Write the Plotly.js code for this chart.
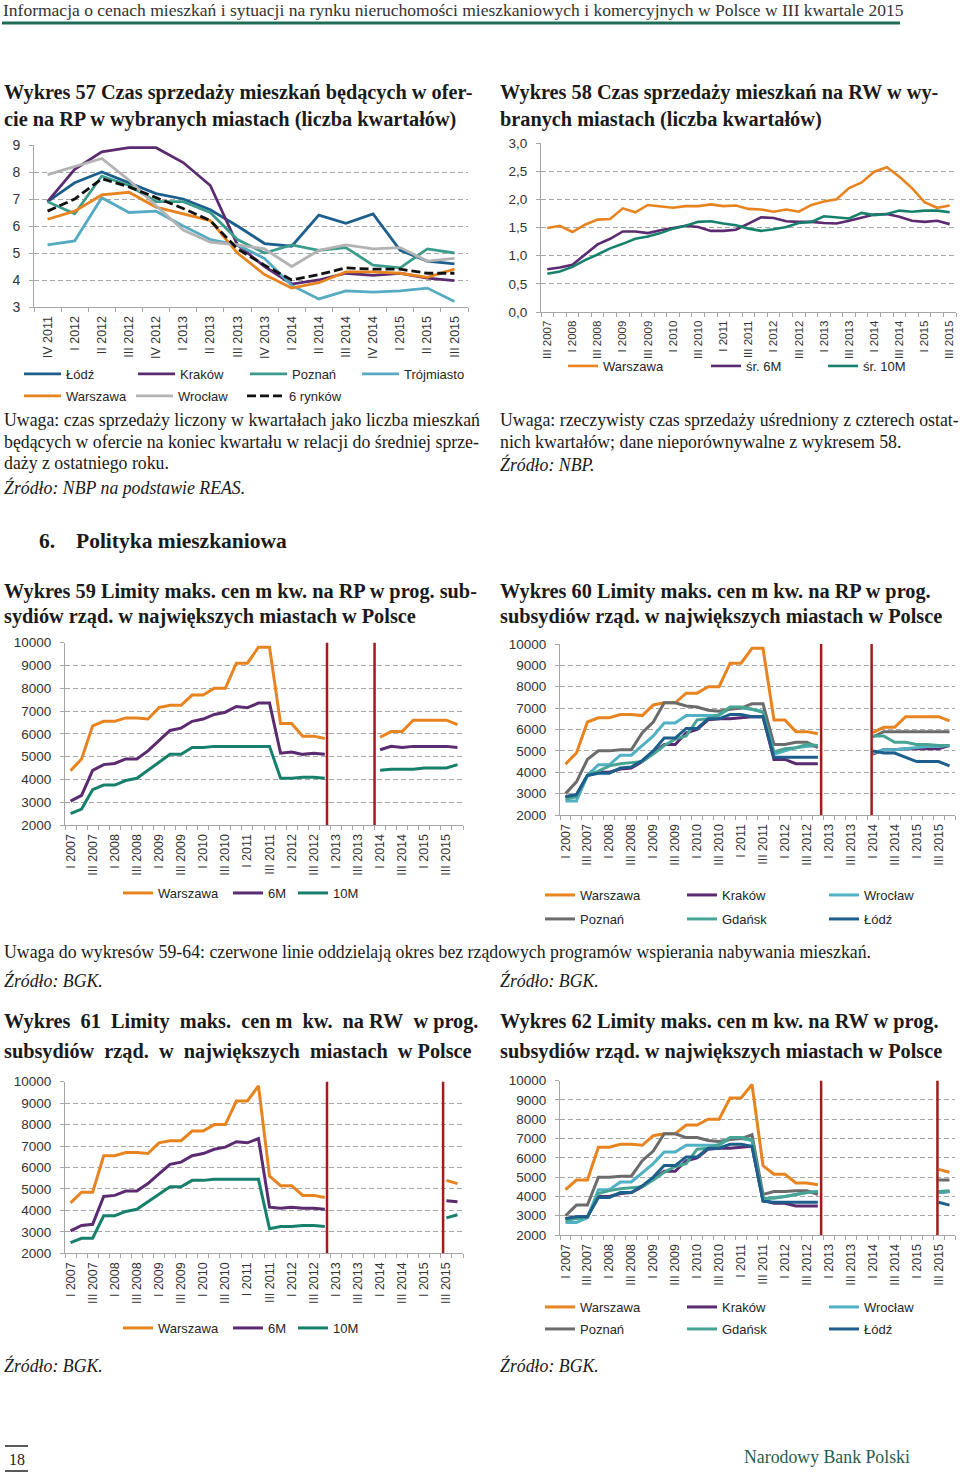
<!DOCTYPE html>
<html><head><meta charset="utf-8">
<script src="https://cdn.plot.ly/plotly-3.0.1.min.js"></script>
<style>body{margin:0;background:#fff}#chart{width:960px;height:1474px}</style>
</head><body><div id="chart"></div>
<script>
// ---------- DATA ----------
const cats57 = ['IV 2011','I 2012','II 2012','III 2012','IV 2012','I 2013','II 2013','III 2013','IV 2013','I 2014','II 2014','III 2014','IV 2014','I 2015','II 2015','III 2015'];
const lodz57 = [6.9,7.6,8.0,7.6,7.2,7.0,6.6,6.0,5.35,5.25,6.4,6.1,6.45,5.1,4.7,4.6];
const krakow57 = [6.9,8.1,8.75,8.9,8.9,8.35,7.5,5.3,4.5,3.85,4.0,4.25,4.17,4.25,4.07,3.98];
const poznan57 = [6.9,6.45,7.85,7.5,6.9,6.9,6.5,5.5,5.0,5.3,5.1,5.2,4.55,4.45,5.15,5.0];
const trojmiasto57 = [5.3,5.45,7.05,6.5,6.55,6.0,5.5,5.3,4.8,3.8,3.3,3.6,3.55,3.6,3.7,3.2];
const warszawa57 = [6.25,6.55,7.15,7.25,6.7,6.45,6.2,5.0,4.2,3.7,3.9,4.3,4.3,4.25,4.1,4.4];
const wroclaw57 = [7.9,8.2,8.5,7.7,6.75,5.85,5.4,5.3,5.15,4.5,5.1,5.3,5.15,5.2,4.7,4.8];
const rynki57 = [6.55,7.0,7.75,7.45,7.05,6.65,6.2,5.15,4.55,4.0,4.2,4.45,4.4,4.4,4.25,4.25];
const yTicks57 = [3,4,5,6,7,8,9];
const yText57 = ['3','4','5','6','7','8','9'];

const cats58 = ['III 2007','IV 2007','I 2008','II 2008','III 2008','IV 2008','I 2009','II 2009','III 2009','IV 2009','I 2010','II 2010','III 2010','IV 2010','I 2011','II 2011','III 2011','IV 2011','I 2012','II 2012','III 2012','IV 2012','I 2013','II 2013','III 2013','IV 2013','I 2014','II 2014','III 2014','IV 2014','I 2015','II 2015','III 2015'];
const warszawa58 = [1.49,1.53,1.42,1.55,1.64,1.65,1.84,1.77,1.90,1.88,1.85,1.88,1.88,1.91,1.88,1.89,1.83,1.82,1.78,1.82,1.78,1.90,1.96,2.00,2.20,2.30,2.49,2.57,2.40,2.20,1.95,1.85,1.89];
const sr6M58 = [0.76,0.79,0.84,1.02,1.20,1.30,1.43,1.43,1.40,1.45,1.49,1.53,1.51,1.44,1.44,1.46,1.57,1.68,1.67,1.61,1.60,1.60,1.58,1.57,1.62,1.67,1.73,1.74,1.69,1.62,1.60,1.62,1.56];
const sr10M58 = [0.68,0.72,0.80,0.92,1.02,1.13,1.21,1.30,1.34,1.40,1.48,1.53,1.60,1.61,1.57,1.54,1.48,1.44,1.47,1.51,1.58,1.60,1.70,1.68,1.66,1.76,1.72,1.74,1.80,1.78,1.80,1.80,1.77];
const yTicks58 = [0,0.5,1,1.5,2,2.5,3];
const yText58 = ['0,0','0,5','1,0','1,5','2,0','2,5','3,0'];

const catsQ = ['I 2007','II 2007','III 2007','IV 2007','I 2008','II 2008','III 2008','IV 2008','I 2009','II 2009','III 2009','IV 2009','I 2010','II 2010','III 2010','IV 2010','I 2011','II 2011','III 2011','IV 2011','I 2012','II 2012','III 2012','IV 2012','I 2013','II 2013','III 2013','IV 2013','I 2014','II 2014','III 2014','IV 2014','I 2015','II 2015','III 2015','IV 2015'];
const yTicksK = [2000,3000,4000,5000,6000,7000,8000,9000,10000];
const yTextK = ['2000','3000','4000','5000','6000','7000','8000','9000','10000'];
const _ = null;

// Wykres 59 (RP)
const warszawa59 = [4380,4900,6350,6550,6550,6700,6700,6650,7150,7250,7250,7700,7700,8000,8000,9100,9100,9800,9800,6450,6450,5900,5900,5800,_,_,_,_,5850,6100,6100,6600,6600,6600,6600,6400];
const m6_59 = [3050,3300,4400,4650,4700,4900,4900,5250,5700,6150,6250,6550,6650,6850,6950,7200,7150,7350,7350,5150,5200,5100,5150,5100,_,_,_,_,5300,5450,5400,5450,5450,5450,5450,5400];
const m10_59 = [2500,2700,3550,3750,3750,3950,4050,4400,4750,5100,5100,5400,5400,5450,5450,5450,5450,5450,5450,4050,4050,4100,4100,4050,_,_,_,_,4400,4450,4450,4450,4500,4500,4500,4650];
const red59 = [23.2,27.5];

// Wykres 60 (RP, miasta)
const warszawa60 = [4380,4900,6350,6550,6550,6700,6700,6650,7150,7250,7250,7700,7700,8000,8000,9100,9100,9800,9800,6450,6450,5900,5900,5800,_,_,_,_,5850,6100,6100,6600,6600,6600,6600,6400];
const krakow60 = [2850,2950,3850,4000,4000,4150,4200,4500,4900,5300,5300,5850,6000,6450,6500,6500,6550,6600,6600,4600,4600,4400,4400,4400,_,_,_,_,4850,5050,5050,5100,5100,5100,5100,5250];
const wroclaw60 = [2650,2650,3850,4350,4350,4800,4800,5250,5700,6300,6300,6650,6650,6650,6650,7000,7000,6950,6850,4850,5000,5150,5200,5250,_,_,_,_,4900,5050,5050,5100,5150,5200,5200,5250];
const poznan60 = [3000,3550,4600,5000,5000,5050,5050,5850,6350,7250,7250,7100,7050,6900,6850,6950,7000,7200,7200,5300,5300,5400,5400,5150,_,_,_,_,5650,5900,5900,5900,5900,5900,5900,5900];
const gdansk60 = [2750,2850,3850,4050,4300,4400,4450,4500,4850,5250,5550,5700,6450,6500,6700,7050,7050,6950,6800,4950,5100,5150,5300,5250,_,_,_,_,5700,5700,5400,5400,5300,5300,5250,5250];
const lodz60 = [2850,2950,3850,3950,3950,4200,4250,4550,5000,5600,5600,6050,6050,6500,6500,6700,6700,6600,6600,4700,4700,4700,4700,4700,_,_,_,_,5000,4900,4900,4700,4500,4500,4500,4300];
const red60 = [23.3,27.9];

// Wykres 61 (RW)
const warszawa61 = [4350,4850,4850,6550,6550,6700,6700,6650,7150,7250,7250,7700,7700,8000,8000,9100,9100,9800,5600,5150,5150,4700,4700,4600,_,_,_,_,_,_,_,_,_,_,5400,5250];
const m6_61 = [3050,3300,3350,4650,4700,4900,4900,5250,5700,6150,6250,6550,6650,6850,6950,7200,7150,7350,4150,4100,4150,4100,4100,4050,_,_,_,_,_,_,_,_,_,_,4450,4400];
const m10_61 = [2500,2700,2700,3750,3750,3950,4050,4400,4750,5100,5100,5400,5400,5450,5450,5450,5450,5450,3150,3250,3250,3300,3300,3250,_,_,_,_,_,_,_,_,_,_,3650,3800];
const red61 = [23.2,33.7];

// Wykres 62 (RW, miasta)
const warszawa62 = [4350,4850,4850,6550,6550,6700,6700,6650,7150,7250,7250,7700,7700,8000,8000,9100,9100,9800,5600,5150,5150,4700,4700,4600,_,_,_,_,_,_,_,_,_,_,5400,5250];
const krakow62 = [2850,2950,2950,4000,4000,4150,4200,4500,4900,5300,5300,5850,6000,6450,6500,6500,6550,6600,3800,3650,3650,3500,3500,3500,_,_,_,_,_,_,_,_,_,_,4200,4250];
const wroclaw62 = [2650,2650,2900,4350,4350,4750,4750,5250,5700,6300,6300,6650,6650,6650,6650,7000,7000,6900,3850,3950,4000,4100,4200,4250,_,_,_,_,_,_,_,_,_,_,4200,4250];
const poznan62 = [3000,3550,3550,5000,5000,5050,5050,5850,6350,7250,7250,7050,7050,6900,6850,6950,7000,7200,4100,4250,4250,4300,4300,4100,_,_,_,_,_,_,_,_,_,_,4850,4850];
const gdansk62 = [2750,2850,2900,4150,4300,4400,4450,4500,4850,5250,5550,5700,6450,6500,6700,7050,7050,6950,3900,3900,4000,4100,4200,4250,_,_,_,_,_,_,_,_,_,_,4250,4300];
const lodz62 = [2850,2950,2950,3950,3950,4200,4200,4550,5000,5600,5600,6050,6050,6500,6500,6700,6700,6600,3750,3700,3700,3700,3700,3700,_,_,_,_,_,_,_,_,_,_,3700,3550];
const red62 = [23.3,33.9];

// ---------- STYLE ----------
const W = 960, H = 1474;
const SANS = 'Liberation Sans, Arial, sans-serif';
const SERIF = 'Liberation Serif, Times New Roman, serif';
const C = {orange:'#e8841f', purple:'#5b2a70', teal10:'#17806d', lodz:'#1d5f8c', poz57:'#3b9c8d', troj:'#56abc2', wro57:'#b3b3b3', poz60:'#6b6b6b', gdansk:'#47a494', wro60:'#4fb1c3', red:'#a31b1b', axis:'#a6a6a6'};

const idx = c => c.map((v,i)=>i);
const evenIdx = c => idx(c).filter(i=>i%2===0);

function xax(x0, x1, cats, tv, anchor, fs){
  return {domain:[x0/W, x1/W], range:[-0.5, cats.length-0.5], anchor, showline:true, linecolor:C.axis, linewidth:1,
    tickmode:'array', tickvals:tv, ticktext:tv.map(i=>cats[i]), ticks:'', tickangle:-90, ticklabelstandoff:3,
    tickfont:{family:SANS, size:fs, color:'#333'}, showgrid:false, zeroline:false, fixedrange:true,
    minor:{tick0:-0.5, dtick:1, ticks:'outside', ticklen:4, tickcolor:C.axis, showgrid:false}};
}
function yax(ybot, ytop, range, tv, tt, anchor, fs){
  return {domain:[1-ybot/H, 1-ytop/H], range, anchor, tickmode:'array', tickvals:tv, ticktext:tt,
    showline:true, linecolor:C.axis, linewidth:1, ticks:'outside', ticklen:4, tickcolor:C.axis, ticklabelstandoff:6,
    showgrid:true, gridcolor:C.axis, gridwidth:1, griddash:'5px,3px', zeroline:false, fixedrange:true,
    tickfont:{family:SANS, size:fs, color:'#333'}};
}
function tr(xa, ya, cats, vals, name, color, width, legend, lw, dash){
  return {type:'scatter', mode:'lines', x:idx(cats), y:vals, name, xaxis:xa, yaxis:ya,
    line:{color, width, dash:dash||'solid'}, legend, legendwidth:lw, hoverinfo:'skip', connectgaps:false};
}
function leg(x, y, iw){
  return {x:x/W, y:1-y/H, xanchor:'left', yanchor:'middle', orientation:'h', bgcolor:'rgba(0,0,0,0)',
    font:{family:SANS, size:13, color:'#262626'}, itemwidth:iw||30, tracegroupgap:0};
}

const traces = [
  // 57
  tr('x','y',cats57,lodz57,'Łódź',C.lodz,2.8,'legend',62),
  tr('x','y',cats57,krakow57,'Kraków',C.purple,2.8,'legend',60),
  tr('x','y',cats57,poznan57,'Poznań',C.poz57,2.8,'legend',60),
  tr('x','y',cats57,trojmiasto57,'Trójmiasto',C.troj,2.8,'legend',70),
  tr('x','y',cats57,warszawa57,'Warszawa',C.orange,2.8,'legend2',60),
  tr('x','y',cats57,wroclaw57,'Wrocław',C.wro57,2.8,'legend2',59),
  tr('x','y',cats57,rynki57,'6 rynków','#111',2.8,'legend2',70,'9px,4px'),
  // 58
  tr('x2','y2',cats58,warszawa58,'Warszawa',C.orange,2.6,'legend3',98),
  tr('x2','y2',cats58,sr6M58,'śr. 6M',C.purple,2.6,'legend3',72),
  tr('x2','y2',cats58,sr10M58,'śr. 10M',C.teal10,2.6,'legend3',60),
  // 59
  tr('x3','y3',catsQ,warszawa59,'Warszawa',C.orange,3,'legend4',65),
  tr('x3','y3',catsQ,m6_59,'6M',C.purple,3,'legend4',20),
  tr('x3','y3',catsQ,m10_59,'10M',C.teal10,3,'legend4',30),
  // 60
  tr('x4','y4',catsQ,warszawa60,'Warszawa',C.orange,3,'legend5',97),
  tr('x4','y4',catsQ,krakow60,'Kraków',C.purple,3,'legend5',97),
  tr('x4','y4',catsQ,wroclaw60,'Wrocław',C.wro60,3,'legend5',60),
  tr('x4','y4',catsQ,poznan60,'Poznań',C.poz60,3,'legend6',97),
  tr('x4','y4',catsQ,gdansk60,'Gdańsk',C.gdansk,3,'legend6',97),
  tr('x4','y4',catsQ,lodz60,'Łódź',C.lodz,3,'legend6',60),
  // 61
  tr('x5','y5',catsQ,warszawa61,'Warszawa',C.orange,3,'legend7',65),
  tr('x5','y5',catsQ,m6_61,'6M',C.purple,3,'legend7',20),
  tr('x5','y5',catsQ,m10_61,'10M',C.teal10,3,'legend7',30),
  // 62
  tr('x6','y6',catsQ,warszawa62,'Warszawa',C.orange,3,'legend8',97),
  tr('x6','y6',catsQ,krakow62,'Kraków',C.purple,3,'legend8',97),
  tr('x6','y6',catsQ,wroclaw62,'Wrocław',C.wro60,3,'legend8',60),
  tr('x6','y6',catsQ,poznan62,'Poznań',C.poz60,3,'legend9',97),
  tr('x6','y6',catsQ,gdansk62,'Gdańsk',C.gdansk,3,'legend9',97),
  tr('x6','y6',catsQ,lodz62,'Łódź',C.lodz,3,'legend9',60)
];

function txt(text, x, y, size, o){
  o = o||{};
  return {text, x:x/W, y:1-y/H, xref:'paper', yref:'paper', xanchor:'left', yanchor:'middle', showarrow:false,
    align:'left', font:{family:SERIF, size, color:o.color||'#1a1a1a'}};
}
const TS = 20.3, PS = 17.8;
const S2 = '\u00a0 ';
const annotations = [
  txt('Informacja o cenach mieszkań i sytuacji na rynku nieruchomości mieszkaniowych i komercyjnych w Polsce w III kwartale 2015',1,10,17.5,{color:'#333'}),
  txt('<b>Wykres 57 Czas sprzedaży mieszkań będących w ofer-</b>',2,93,TS),
  txt('<b>cie na RP w wybranych miastach (liczba kwartałów)</b>',2,119,TS),
  txt('<b>Wykres 58 Czas sprzedaży mieszkań na RW w wy-</b>',498,93,TS),
  txt('<b>branych miastach (liczba kwartałów)</b>',498,119,TS),
  txt('Uwaga: czas sprzedaży liczony w kwartałach jako liczba mieszkań',2,420,PS),
  txt('będących w ofercie na koniec kwartału w relacji do średniej sprze-',2,442,PS),
  txt('daży z ostatniego roku.',2,463,PS),
  txt('<i>Źródło: NBP na podstawie REAS.</i>',2,487,PS),
  txt('Uwaga: rzeczywisty czas sprzedaży uśredniony z czterech ostat-',498,420,PS),
  txt('nich kwartałów; dane nieporównywalne z wykresem 58.',498,442,PS),
  txt('<i>Źródło: NBP.</i>',498,465,PS),
  txt('<b>6.</b>',37,541,21.5),
  txt('<b>Polityka mieszkaniowa</b>',74,541,21.5),
  txt('<b>Wykres 59 Limity maks. cen m kw. na RP w prog. sub-</b>',2,591,TS),
  txt('<b>sydiów rząd. w największych miastach w Polsce</b>',2,617,TS),
  txt('<b>Wykres 60 Limity maks. cen m kw. na RP w prog.</b>',498,591,TS),
  txt('<b>subsydiów rząd. w największych miastach w Polsce</b>',498,617,TS),
  txt('Uwaga do wykresów 59-64: czerwone linie oddzielają okres bez rządowych programów wspierania nabywania mieszkań.',2,952,PS),
  txt('<i>Źródło: BGK.</i>',2,980,PS),
  txt('<i>Źródło: BGK.</i>',498,980,PS),
  txt('<b>Wykres' + S2 + '61' + S2 + 'Limity' + S2 + 'maks.' + S2 + 'cen m' + S2 + 'kw.' + S2 + 'na RW' + S2 + 'w prog.</b>',2,1022,TS),
  txt('<b>subsydiów' + S2 + 'rząd.' + S2 + 'w' + S2 + 'największych' + S2 + 'miastach' + S2 + 'w Polsce</b>',2,1051,TS),
  txt('<b>Wykres 62 Limity maks. cen m kw. na RW w prog.</b>',498,1022,TS),
  txt('<b>subsydiów rząd. w największych miastach w Polsce</b>',498,1051,TS),
  txt('<i>Źródło: BGK.</i>',2,1365,PS),
  txt('<i>Źródło: BGK.</i>',498,1365,PS),
  txt('18',7,1459,16),
  txt('Narodowy Bank Polski',742,1457,17.8,{color:'#1f5e50'})
];

function redLines(vals, xa, ya){
  return vals.map(v=>({type:'line', xref:xa, yref:ya, x0:v, x1:v, y0:2000, y1:10050, line:{color:C.red, width:2.5}}));
}
const pl = (x0,y0,x1,y1,color,width)=>({type:'line', xref:'paper', yref:'paper', x0:x0/W, x1:x1/W, y0:1-y0/H, y1:1-y1/H, line:{color, width}});
const shapes = [
  pl(2,23,900,23,'#1e6e57',3),
  pl(5,1446,28,1446,'#222',1.5),
  pl(5,1471,28,1471,'#222',1.5),
  ...redLines(red59,'x3','y3'), ...redLines(red60,'x4','y4'),
  ...redLines(red61,'x5','y5'), ...redLines(red62,'x6','y6')
];

const layout = {
  width:W, height:H, margin:{l:0,r:0,t:0,b:0,pad:0,autoexpand:false},
  paper_bgcolor:'#fff', plot_bgcolor:'rgba(0,0,0,0)', showlegend:true,
  font:{family:SANS, color:'#333'},
  xaxis: xax(34,468,cats57,idx(cats57),'y',12.5),
  yaxis: yax(307,145,[3,9],yTicks57,yText57,'x',14),
  xaxis2: xax(541,956,cats58,evenIdx(cats58),'y2',11.5),
  yaxis2: yax(312,143,[0,3],yTicks58,yText58,'x2',13.5),
  xaxis3: xax(65,463,catsQ,evenIdx(catsQ),'y3',12.5),
  yaxis3: yax(825,642.7,[2000,10000],yTicksK,yTextK,'x3',13.5),
  xaxis4: xax(560,955,catsQ,evenIdx(catsQ),'y4',12.5),
  yaxis4: yax(815,644,[2000,10000],yTicksK,yTextK,'x4',13.5),
  xaxis5: xax(65,463,catsQ,evenIdx(catsQ),'y5',12.5),
  yaxis5: yax(1253.3,1081.7,[2000,10000],yTicksK,yTextK,'x5',13.5),
  xaxis6: xax(560,955,catsQ,evenIdx(catsQ),'y6',12.5),
  yaxis6: yax(1235,1080.7,[2000,10000],yTicksK,yTextK,'x6',13.5),
  legend: leg(19,374,37), legend2: leg(19,396,37), legend3: leg(563,366),
  legend4: leg(118,893), legend5: leg(540,895), legend6: leg(540,919),
  legend7: leg(118,1328), legend8: leg(540,1307), legend9: leg(540,1329),
  annotations, shapes
};
Plotly.newPlot('chart', traces, layout, {staticPlot:true, displayModeBar:false});
</script></body></html>
